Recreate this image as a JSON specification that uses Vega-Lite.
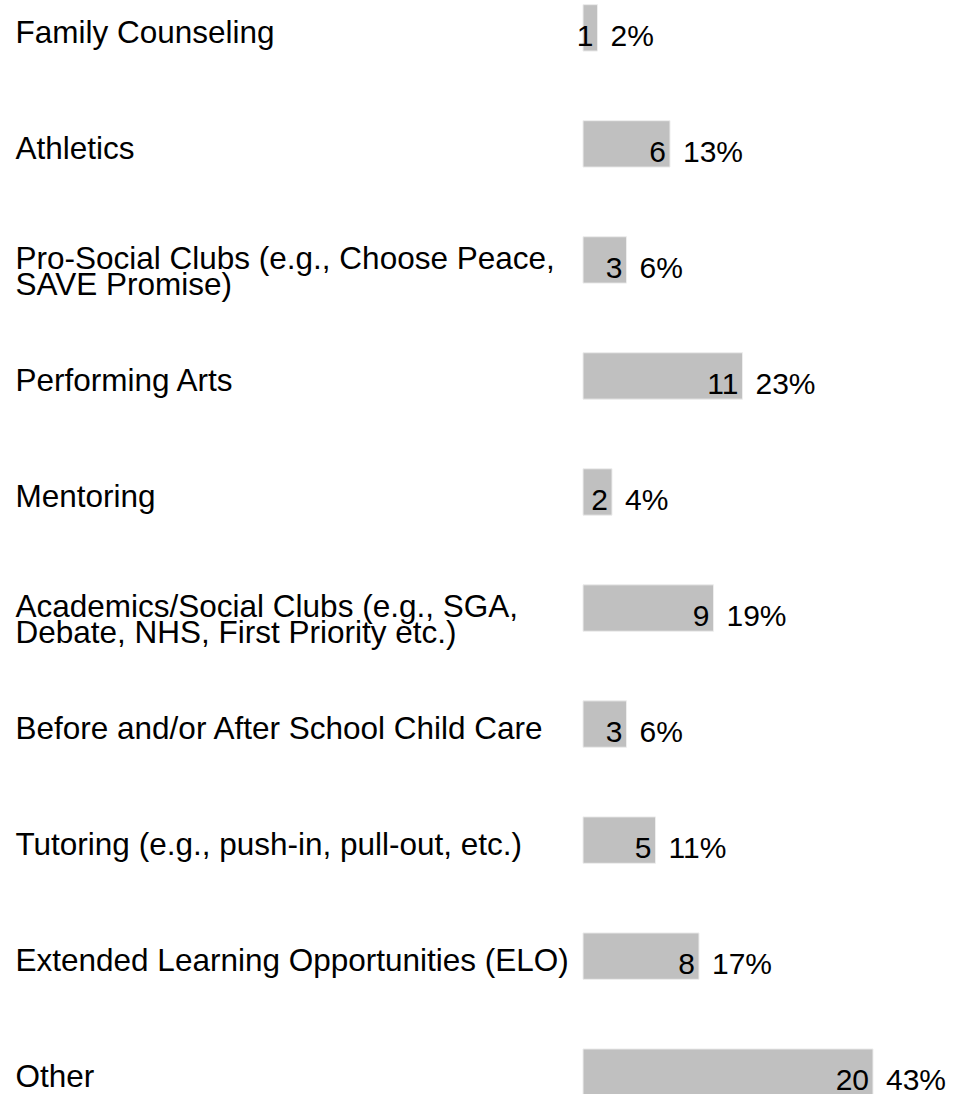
{
  "$schema": "https://vega.github.io/schema/vega-lite/v6.json",
  "width": 290,
  "height": 1100,
  "autosize": "none",
  "padding": {"left": 583, "top": 0, "right": 82, "bottom": 0},
  "background": "white",
  "config": {"view": {"stroke": null}, "font": "Liberation Sans"},
  "data": {
    "values": [
      {"category": "Family Counseling", "count": 1, "pct": "2%"},
      {"category": "Athletics", "count": 6, "pct": "13%"},
      {"category": "Pro-Social Clubs (e.g., Choose Peace, SAVE Promise)", "count": 3, "pct": "6%"},
      {"category": "Performing Arts", "count": 11, "pct": "23%"},
      {"category": "Mentoring", "count": 2, "pct": "4%"},
      {"category": "Academics/Social Clubs (e.g., SGA, Debate, NHS, First Priority etc.)", "count": 9, "pct": "19%"},
      {"category": "Before and/or After School Child Care", "count": 3, "pct": "6%"},
      {"category": "Tutoring (e.g., push-in, pull-out, etc.)", "count": 5, "pct": "11%"},
      {"category": "Extended Learning Opportunities (ELO)", "count": 8, "pct": "17%"},
      {"category": "Other", "count": 20, "pct": "43%"}
    ]
  },
  "encoding": {
    "y": {
      "field": "category",
      "type": "nominal",
      "sort": null,
      "scale": {"paddingInner": 0.6, "paddingOuter": 0.04},
      "axis": {
        "title": null,
        "ticks": false,
        "domain": false,
        "labelAlign": "left",
        "labelBaseline": "middle",
        "labelPadding": 568,
        "labelFontSize": 31.5,
        "labelColor": "black",
        "labelLimit": 0,
        "labelOverlap": false,
        "labelLineHeight": 26,
        "labelOffset": {"condition": {"test": "indexof(datum.value, 'Clubs') >= 0", "value": 0}, "value": 6},
        "labelExpr": "datum.value == 'Pro-Social Clubs (e.g., Choose Peace, SAVE Promise)' ? ['Pro-Social Clubs (e.g., Choose Peace,', 'SAVE Promise)'] : datum.value == 'Academics/Social Clubs (e.g., SGA, Debate, NHS, First Priority etc.)' ? ['Academics/Social Clubs (e.g., SGA,', 'Debate, NHS, First Priority etc.)'] : datum.value"
      }
    },
    "x": {"field": "count", "type": "quantitative", "scale": {"domain": [0, 20]}, "axis": null}
  },
  "layer": [
    {"mark": {"type": "bar", "color": "#c0c0c0", "stroke": "#ededed", "strokeWidth": 1}},
    {"mark": {"type": "text", "align": "right", "baseline": "middle", "dx": -4, "dy": 9, "fontSize": 30, "color": "black"}, "encoding": {"text": {"field": "count"}}},
    {"mark": {"type": "text", "align": "left", "baseline": "middle", "dx": 13, "dy": 9, "fontSize": 30, "color": "black"}, "encoding": {"text": {"field": "pct"}}}
  ]
}
